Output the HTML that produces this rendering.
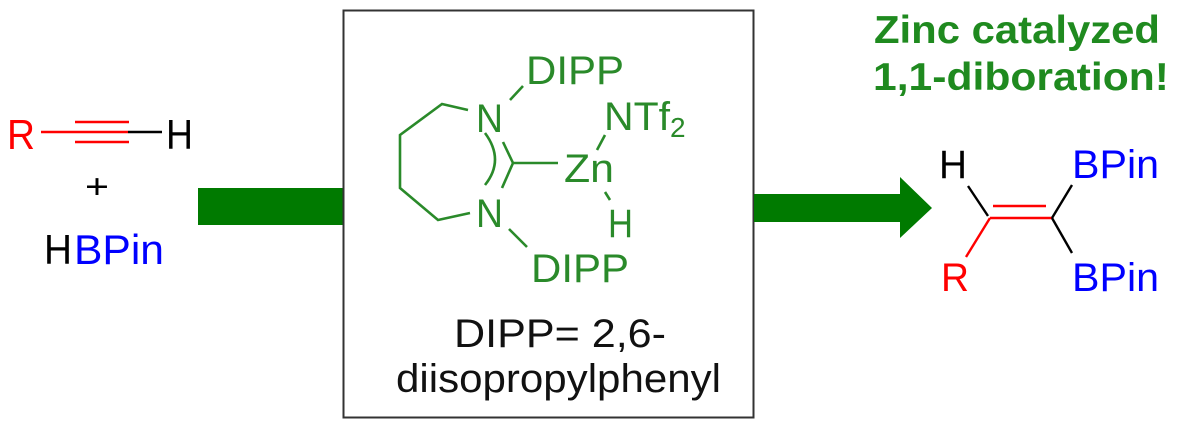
<!DOCTYPE html>
<html><head><meta charset="utf-8"><style>
html,body{margin:0;padding:0;background:#fff;}
svg{display:block;}
text{font-family:"Liberation Sans",sans-serif;}
</style></head><body>
<svg width="1177" height="433" viewBox="0 0 1177 433" xmlns="http://www.w3.org/2000/svg">
<rect x="0" y="0" width="1177" height="433" fill="#fff"/>
<!-- left reactants -->
<text x="7" y="149" font-size="42" fill="#ff0000" textLength="28" lengthAdjust="spacingAndGlyphs">R</text>
<line x1="41" y1="132" x2="128" y2="132" stroke="#ff0000" stroke-width="2.4"/>
<line x1="75" y1="122" x2="129" y2="122" stroke="#ff0000" stroke-width="2.4"/>
<line x1="75" y1="142" x2="129" y2="142" stroke="#ff0000" stroke-width="2.4"/>
<line x1="128" y1="132" x2="162" y2="132" stroke="#000" stroke-width="2.4"/>
<text x="166" y="149" font-size="42" fill="#000" textLength="27" lengthAdjust="spacingAndGlyphs">H</text>
<text x="85" y="198" font-size="34" fill="#000" textLength="24" lengthAdjust="spacingAndGlyphs">+</text>
<text x="44" y="264" font-size="42" fill="#000" textLength="28" lengthAdjust="spacingAndGlyphs">H</text>
<text x="74" y="264" font-size="42" fill="#0000ff" textLength="90" lengthAdjust="spacingAndGlyphs">BPin</text>
<!-- left bar -->
<rect x="198" y="188" width="146" height="37" fill="#007a00"/>
<!-- box -->
<rect x="343.5" y="10.5" width="410" height="407" fill="#fff" stroke="#333" stroke-width="2"/>
<!-- catalyst -->
<g stroke="#2a8a2a" stroke-width="2.6" fill="none">
<polyline points="468,110 442,104 400,135 400,188 438,220 470,213"/>
<line x1="503" y1="142" x2="513" y2="163"/>
<line x1="513" y1="163" x2="502" y2="188"/>
<path d="M485,133 Q505,160 485,185"/>
<line x1="513" y1="163" x2="558" y2="163"/>
<line x1="510" y1="100" x2="523" y2="86"/>
<line x1="509" y1="229" x2="527" y2="247"/>
<line x1="597" y1="150" x2="605" y2="135"/>
<line x1="605" y1="192" x2="610" y2="200"/>
</g>
<g fill="#2a8a2a" font-size="40">
<text x="526" y="84" textLength="98" lengthAdjust="spacingAndGlyphs">DIPP</text>
<text x="476" y="132" textLength="27" lengthAdjust="spacingAndGlyphs">N</text>
<text x="476" y="227" textLength="27" lengthAdjust="spacingAndGlyphs">N</text>
<text x="564" y="182" textLength="50" lengthAdjust="spacingAndGlyphs">Zn</text>
<text x="604" y="130" textLength="66" lengthAdjust="spacingAndGlyphs">NTf</text>
<text x="670" y="137" font-size="28">2</text>
<text x="608" y="237" textLength="25" lengthAdjust="spacingAndGlyphs">H</text>
<text x="531" y="282" textLength="98" lengthAdjust="spacingAndGlyphs">DIPP</text>
</g>
<text x="454" y="347" font-size="40" fill="#111" textLength="212" lengthAdjust="spacingAndGlyphs">DIPP= 2,6-</text>
<text x="396" y="392" font-size="40" fill="#111" textLength="325" lengthAdjust="spacingAndGlyphs">diisopropylphenyl</text>
<!-- right arrow -->
<rect x="754" y="194" width="148" height="28" fill="#007a00"/>
<polygon points="900,177 932,208 900,238" fill="#007a00"/>
<!-- title -->
<text x="874" y="43" font-size="39" font-weight="bold" fill="#1f8a1f" textLength="286" lengthAdjust="spacingAndGlyphs">Zinc catalyzed</text>
<text x="873" y="90" font-size="39" font-weight="bold" fill="#1f8a1f" textLength="296" lengthAdjust="spacingAndGlyphs">1,1-diboration!</text>
<!-- product -->
<g stroke-width="2.4">
<line x1="968" y1="186" x2="988" y2="216" stroke="#000"/>
<line x1="990" y1="218" x2="1052" y2="218" stroke="#ff0000"/>
<line x1="993" y1="206" x2="1046" y2="206" stroke="#ff0000"/>
<line x1="990" y1="218" x2="966" y2="257" stroke="#ff0000"/>
<line x1="1052" y1="218" x2="1072" y2="185" stroke="#000"/>
<line x1="1052" y1="218" x2="1072" y2="253" stroke="#000"/>
</g>
<text x="939" y="178" font-size="40" fill="#000" textLength="28" lengthAdjust="spacingAndGlyphs">H</text>
<text x="1072" y="178" font-size="40" fill="#0000ff" textLength="87" lengthAdjust="spacingAndGlyphs">BPin</text>
<text x="941" y="291" font-size="40" fill="#ff0000" textLength="28" lengthAdjust="spacingAndGlyphs">R</text>
<text x="1072" y="291" font-size="40" fill="#0000ff" textLength="87" lengthAdjust="spacingAndGlyphs">BPin</text>
</svg>
</body></html>
